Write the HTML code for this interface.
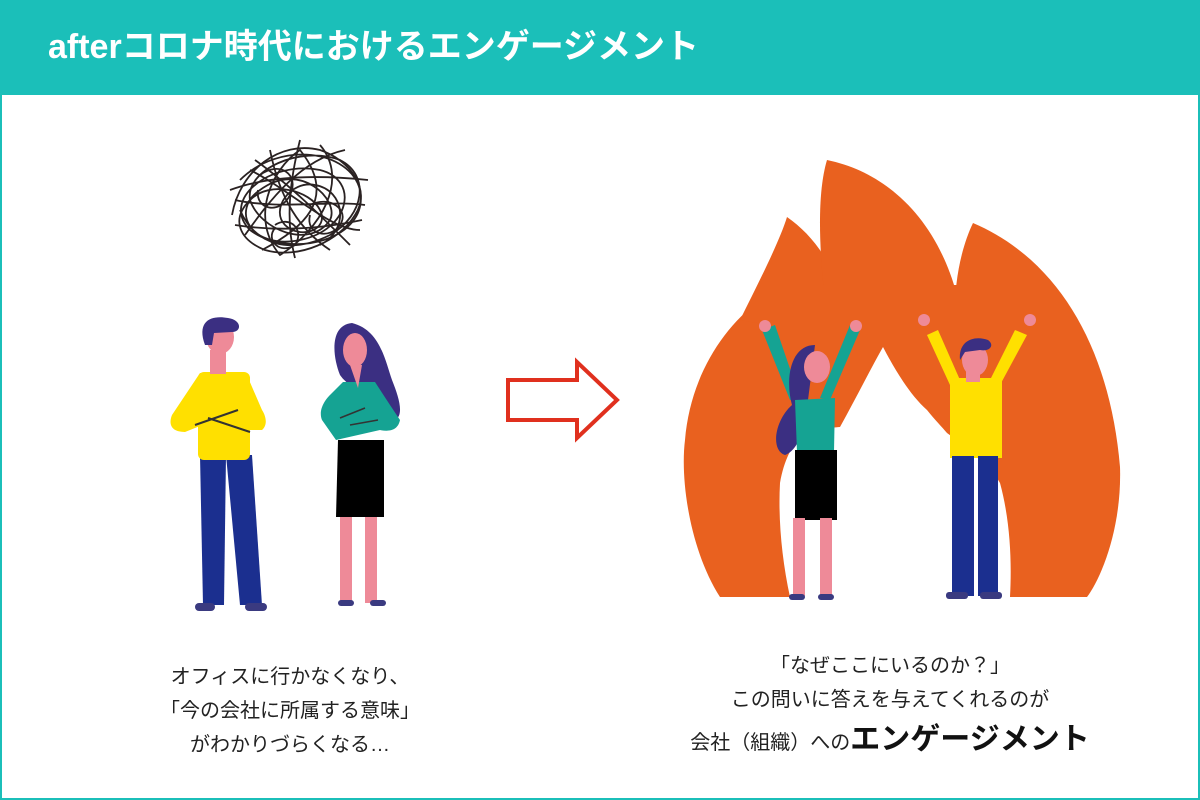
<!DOCTYPE html>
<html><head><meta charset="utf-8"><style>
body{margin:0;width:1200px;height:800px;overflow:hidden;background:#fff;font-family:"Liberation Sans","Noto Sans CJK JP",sans-serif}
.t{position:absolute;width:500px;text-align:center;color:#222;font-size:20px;line-height:34px}
</style></head><body>
<div style="position:absolute;left:0;top:0;width:1196px;height:796px;border:2px solid #1bbfb9"></div>
<div style="position:absolute;left:0;top:0;width:1200px;height:95px;background:#1bbfb9"></div>
<div style="position:absolute;left:48px;top:24px;color:#fff;font-weight:bold;font-size:34px;line-height:46px">afterコロナ時代におけるエンゲージメント</div>
<svg width="1200" height="800" viewBox="0 0 1200 800" style="position:absolute;left:0;top:0">
<g fill="none" stroke="#2a2222" stroke-width="1.8">
<path d="M240 180 C280 140 350 150 360 190 C370 240 290 260 250 230 C220 200 270 160 320 170 C360 180 350 230 300 240 C250 250 230 210 260 190 C300 160 340 200 330 220 C310 250 260 230 250 200 C245 170 300 145 340 160 C370 175 365 215 330 235 C290 255 255 245 240 210"/>
<path d="M262 250 C300 230 340 200 300 150 C270 170 250 220 280 255 C320 230 350 180 320 145 M235 200 C280 210 330 200 365 205 M250 170 C290 190 330 230 360 230 M270 150 C280 200 300 230 330 250"/>
<path d="M232 215 C240 170 280 140 320 150 C350 160 372 190 355 215 C340 240 300 260 265 250 C240 240 230 220 250 200 C270 180 310 190 320 210 C330 230 300 240 285 225 C270 210 290 180 315 185 C345 190 350 230 320 245"/>
<path d="M245 235 C270 200 300 160 345 150 M255 160 C290 185 320 215 350 245 M300 140 C290 180 285 220 295 258 M230 190 C270 175 320 175 368 180 M235 225 C280 232 325 228 362 220"/>
<path d="M260 175 C280 160 300 175 290 195 C280 215 255 210 258 190 M310 205 C330 195 350 210 340 225 C330 240 305 235 310 215 M275 225 C290 215 305 230 295 245 C280 255 265 240 275 228"/>
</g>
<path d="M508 380 H577 V362 L617 400 L577 438 V420 H508 Z" fill="#fff" stroke="#e0301e" stroke-width="4"/>
<!-- flame -->
<g fill="#e9611f">
<path d="M720 597 C690 550 680 480 685 440 C690 380 720 330 760 300 L965 300 L1010 400 L1010 597 Z"/>
<path d="M740 320 C760 280 780 240 787 217 C820 240 845 280 850 340 Z"/>
<path d="M830 340 C820 270 815 200 827 160 C900 175 955 240 965 340 Z"/>
<path d="M955 340 C952 290 960 250 973 223 C1060 260 1110 350 1120 467 C1122 530 1100 580 1087 597 L1000 597 Z"/>
<rect x="780" y="285" width="240" height="200"/>
<rect x="990" y="300" width="40" height="297"/>
</g>
<path d="M790 597 C782 560 778 520 780 483 C784 460 792 445 803 433 C815 428 830 428 840 427 C855 400 870 370 883 347 C895 370 910 395 927 410 C935 420 942 427 947 433 C970 450 990 465 1000 483 C1010 520 1012 560 1010 597 Z" fill="#fff"/>
<!-- man left -->
<g>
<path d="M200 455 L226 455 L224 605 L203 605Z" fill="#1b2f8f"/><path d="M226 455 L252 455 L262 605 L240 605Z" fill="#1b2f8f"/>
<rect x="195" y="603" width="20" height="8" rx="4" fill="#3a3a80"/><rect x="245" y="603" width="22" height="8" rx="4" fill="#3a3a80"/>
<rect x="198" y="372" width="52" height="88" rx="6" fill="#ffe000"/>
<path d="M200 373 L172 415 C168 425 172 432 185 432 L215 420 L240 430 L262 430 C268 425 266 416 262 410 L246 373Z" fill="#ffe000"/>
<rect x="210" y="350" width="16" height="24" fill="#ee8a98"/>
<ellipse cx="220" cy="337" rx="14" ry="17" fill="#ee8a98"/>
<path d="M205 345 C196 320 212 315 228 318 C242 320 242 332 232 332 L214 333 L212 345Z" fill="#3b2f82"/>
<path d="M195 425 L238 410 M208 418 L250 432" stroke="#333" stroke-width="2"/>
</g>
<!-- woman left -->
<g>
<path d="M352 323 C330 325 332 355 340 375 C350 390 380 400 395 420 C405 415 398 395 392 380 C385 360 380 330 352 323Z" fill="#3b2f82"/>
<ellipse cx="355" cy="350" rx="12" ry="17" fill="#ee8a98"/>
<rect x="340" y="515" width="12" height="88" fill="#ee8a98"/><rect x="365" y="515" width="12" height="88" fill="#ee8a98"/>
<rect x="338" y="600" width="16" height="6" rx="3" fill="#3a3a80"/><rect x="370" y="600" width="16" height="6" rx="3" fill="#3a3a80"/>
<path d="M338 440 L384 440 L384 517 L336 517Z" fill="#000"/>
<path d="M343 382 L375 382 L390 405 L400 420 C398 430 390 432 380 430 L336 440 L322 420 C318 410 325 400 330 395 Z" fill="#15a393"/>
<path d="M350 365 L362 365 L358 388 Z" fill="#ee8a98"/>
<path d="M340 418 L365 408 M350 425 L378 420" stroke="#333" stroke-width="1.5"/>
</g>
<!-- woman right -->
<g>
<path d="M762 330 L790 400 L800 398 L775 325Z" fill="#15a393"/>
<path d="M860 330 L830 400 L820 398 L850 325Z" fill="#15a393"/>
<circle cx="765" cy="326" r="6" fill="#ee8a98"/><circle cx="856" cy="326" r="6" fill="#ee8a98"/>
<path d="M815 345 C790 345 785 380 792 405 C775 420 770 450 785 455 C800 450 808 420 808 400 Z" fill="#3b2f82"/>
<ellipse cx="817" cy="367" rx="13" ry="16" fill="#ee8a98"/>
<path d="M795 400 L835 398 L834 452 L797 452Z" fill="#15a393"/>
<rect x="795" y="450" width="42" height="70" fill="#000"/>
<rect x="793" y="518" width="12" height="78" fill="#ee8a98"/><rect x="820" y="518" width="12" height="78" fill="#ee8a98"/>
<rect x="789" y="594" width="16" height="6" rx="3" fill="#3a3a80"/><rect x="818" y="594" width="16" height="6" rx="3" fill="#3a3a80"/>
</g>
<!-- man right -->
<g>
<path d="M927 335 L950 385 L960 380 L938 330Z" fill="#ffe000"/>
<path d="M1027 335 L1000 385 L990 380 L1015 330Z" fill="#ffe000"/>
<circle cx="924" cy="320" r="6" fill="#ee8a98"/><circle cx="1030" cy="320" r="6" fill="#ee8a98"/>
<rect x="950" y="378" width="52" height="80" fill="#ffe000"/>
<rect x="966" y="368" width="14" height="14" fill="#ee8a98"/>
<ellipse cx="975" cy="360" rx="13" ry="16" fill="#ee8a98"/>
<path d="M960 360 C958 340 975 335 988 340 C995 345 990 352 980 350 L965 352Z" fill="#3b2f82"/>
<rect x="952" y="456" width="22" height="140" fill="#1b2f8f"/><rect x="978" y="456" width="20" height="140" fill="#1b2f8f"/>
<rect x="946" y="592" width="22" height="7" rx="3" fill="#3a3a80"/><rect x="980" y="592" width="22" height="7" rx="3" fill="#3a3a80"/>
</g>
</svg>
<div class="t" style="left:40px;top:660px">オフィスに行かなくなり、<br>「今の会社に所属する意味」<br>がわかりづらくなる…</div>
<div class="t" style="left:640px;top:649px">「なぜここにいるのか？」<br>この問いに答えを与えてくれるのが<br><span style="position:relative;top:6px">会社（組織）への<b style="font-size:30px;color:#111">エンゲージメント</b></span></div>
</body></html>
